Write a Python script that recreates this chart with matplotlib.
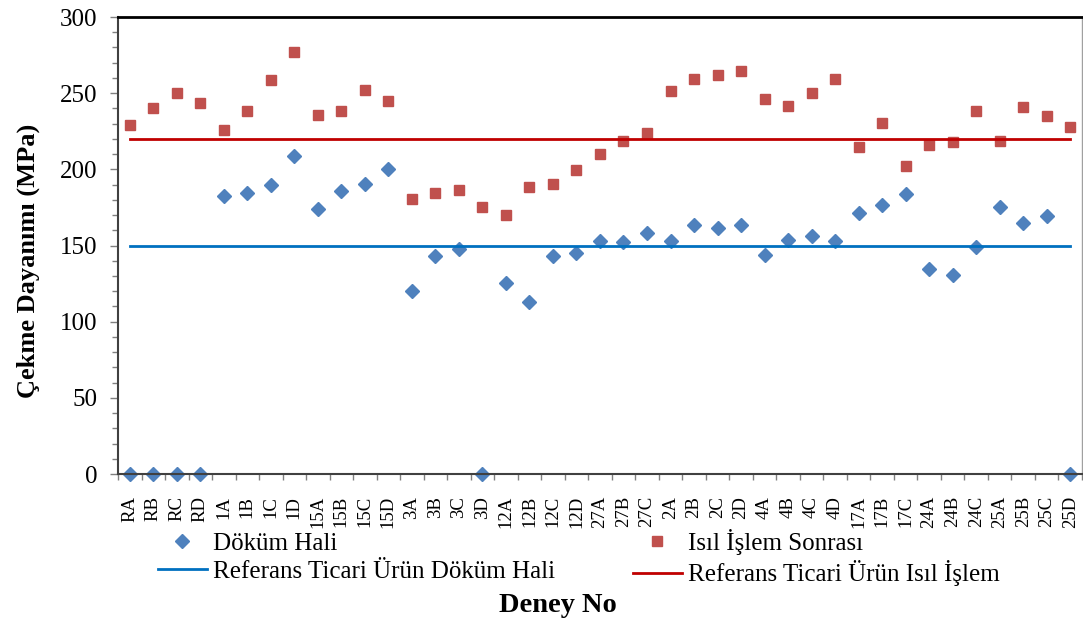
import matplotlib.pyplot as plt
from matplotlib.ticker import MultipleLocator, FixedLocator

# Test codes on the x axis
deney_no = ["RA", "RB", "RC", "RD", "1A", "1B", "1C", "1D", "15A", "15B", "15C", "15D",
            "3A", "3B", "3C", "3D", "12A", "12B", "12C", "12D", "27A", "27B", "27C",
            "2A", "2B", "2C", "2D", "4A", "4B", "4C", "4D", "17A", "17B", "17C",
            "24A", "24B", "24C", "25A", "25B", "25C", "25D"]

# Tensile strength (MPa), as cast
dokum_hali = [0, 0, 0, 0, 182.3, 184.7, 189.5, 208.5, 173.8, 186.0, 190.2, 200.4,
              120.3, 142.9, 147.5, 0, 125.4, 112.9, 143.3, 144.9, 152.8, 152.5, 158.2,
              153.2, 163.3, 161.7, 163.5, 143.8, 153.6, 156.2, 153.0, 171.1, 176.4, 183.6,
              134.6, 130.6, 148.8, 175.1, 164.6, 169.2, 0]

# Tensile strength (MPa), after heat treatment
isil_islem = [229.3, 240.5, 250.3, 243.5, 226.0, 238.1, 258.6, 277.0, 235.5, 238.1, 251.9, 244.7,
              180.3, 184.5, 186.7, 175.5, 170.2, 188.2, 190.4, 199.4, 210.1, 218.6, 223.9,
              251.4, 259.5, 261.7, 264.8, 246.2, 241.8, 249.9, 259.3, 214.9, 230.6, 202.2,
              215.8, 217.7, 238.5, 218.8, 240.9, 235.0, 227.6]

# Commercial reference product values (MPa)
ref_dokum = 150
ref_isil = 220

plt.rcParams['font.family'] = ['Liberation Serif', 'DejaVu Serif']

fig = plt.figure(figsize=(10.83, 6.21), dpi=100)
ax = fig.add_axes([0.109, 0.2367, 0.890, 0.7359])

x = range(len(deney_no))
ax.plot(x, dokum_hali, linestyle='none', marker='D', markersize=7,
        color='#4F81BD', label='Döküm Hali')
ax.plot([0, len(deney_no) - 1], [ref_dokum, ref_dokum], color='#0070C0', lw=2,
        label='Referans Ticari Ürün Döküm Hali')
ax.plot(x, isil_islem, linestyle='none', marker='s', markersize=7.5,
        color='#C0504D', label='Isıl İşlem Sonrası')
ax.plot([0, len(deney_no) - 1], [ref_isil, ref_isil], color='#C00000', lw=2,
        label='Referans Ticari Ürün Isıl İşlem')
for ln in ax.lines:
    ln.set_clip_on(False)

ax.set_xlim(-0.5, len(deney_no) - 0.5)
ax.set_ylim(0, 300)

ax.set_xticks(list(x))
ax.set_xticklabels(deney_no, rotation=90, fontsize=13.5)
ax.xaxis.set_minor_locator(FixedLocator([i + 0.5 for i in range(-1, len(deney_no))]))
ax.tick_params(axis='x', which='major', length=0, pad=16)
ax.tick_params(axis='x', which='minor', length=4, width=1, color='#808080')

ax.yaxis.set_major_locator(MultipleLocator(50))
ax.yaxis.set_minor_locator(MultipleLocator(10))
ax.tick_params(axis='y', which='major', length=6, width=1, color='#808080', labelsize=18, pad=9)
ax.tick_params(axis='y', which='minor', length=4, width=1, color='#808080')

ax.spines['top'].set_color('black')
ax.spines['top'].set_linewidth(2)
ax.spines['right'].set_color('#A0A0A0')
ax.spines['right'].set_linewidth(1)
ax.spines['left'].set_color('#404040')
ax.spines['left'].set_linewidth(1.5)
ax.spines['bottom'].set_color('#404040')
ax.spines['bottom'].set_linewidth(1.5)

ax.set_ylabel('Çekme Dayanımı (MPa)', fontsize=19, fontweight='bold')
ax.yaxis.set_label_coords(-0.081, 0.466)
fig.text(0.515, 0.025, 'Deney No', fontsize=20.5, fontweight='bold', ha='center', va='center')

handles, labels = ax.get_legend_handles_labels()
fig.legend(handles, labels, ncol=2, loc='upper left', bbox_to_anchor=(0.1366, 0.165),
           frameon=False, fontsize=18, handlelength=1.96, handletextpad=0.24,
           columnspacing=3.1, labelspacing=0.23, borderaxespad=0)

fig.savefig('out.png', dpi=100)
